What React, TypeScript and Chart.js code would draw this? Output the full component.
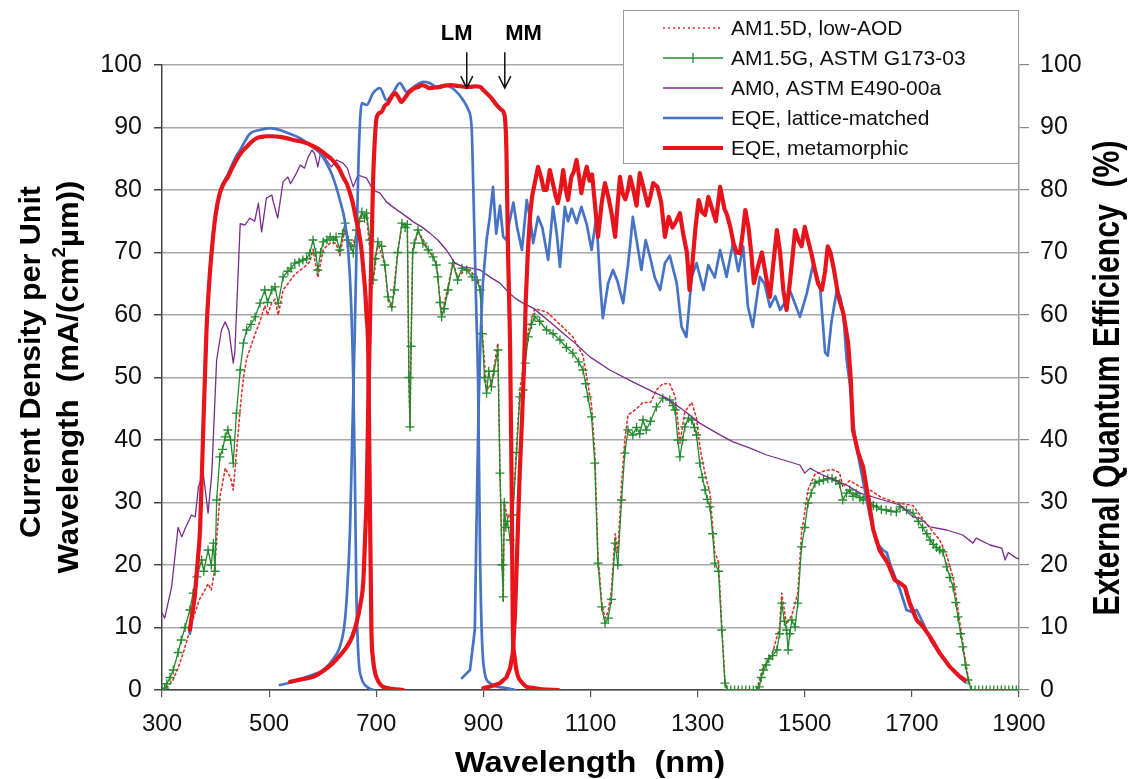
import React, { useEffect, useRef } from 'react';
import { Chart, registerables } from 'chart.js';

Chart.register(...registerables);

const FONT = "'Liberation Sans', Arial, Helvetica, sans-serif";

// ---------- axis ticks ----------
const xTicks = [300, 500, 700, 900, 1100, 1300, 1500, 1700, 1900];
const yTicks = [0, 10, 20, 30, 40, 50, 60, 70, 80, 90, 100];

// ---------- AM0, ASTM E490-00a ----------
const am0Wl = [300, 305, 318, 330, 337, 343, 355, 362, 368, 377, 386, 393, 402, 411, 418, 425, 433, 436, 446, 455, 464, 473, 480, 486, 495, 505, 508, 516, 526, 535, 540, 551, 558, 566, 573, 580, 585, 591, 597, 607, 616, 626, 638, 646, 657, 666, 682, 694, 707, 719, 731, 744, 757, 769, 785, 800, 815, 831, 847, 862, 878, 894, 912, 931, 943, 959, 974, 993, 1020, 1050, 1071, 1099, 1136, 1179, 1217, 1242, 1273, 1304, 1336, 1366, 1398, 1429, 1460, 1491, 1500, 1510, 1520, 1541, 1578, 1603, 1646, 1678, 1702, 1715, 1734, 1765, 1795, 1814, 1820, 1846, 1868, 1874, 1880, 1895, 1900];
const am0Val = [12.3, 11.5, 16.5, 26, 24.5, 25.8, 28, 27.7, 32.5, 34.7, 28.3, 34.7, 52.8, 57.6, 58.9, 57.5, 52.3, 54, 74.6, 74.4, 75.5, 75, 77.9, 73.3, 78.7, 79.2, 78, 75.5, 81.3, 82.1, 81, 82.7, 84, 83.5, 85.3, 86.4, 85.8, 83.7, 86.4, 84.8, 83.7, 84.8, 84.3, 83.5, 80.5, 82.4, 81.9, 80, 79.5, 78.1, 77.3, 76.5, 75.7, 74.9, 74.1, 73.1, 72, 70.4, 68.3, 67.7, 67.5, 67.2, 66.1, 65.1, 64, 62.7, 61.9, 61.1, 59.2, 57, 55.5, 53.3, 51.2, 49.3, 47.7, 46.7, 44.8, 42.7, 41.1, 39.7, 38.7, 37.6, 36.8, 36, 34.7, 35.5, 35, 34.1, 32.8, 31.5, 30.4, 29.6, 27.7, 27.5, 26.1, 25.6, 24.8, 23.5, 24.3, 23.2, 22.7, 20.8, 22, 21.1, 21];

// ---------- AM1.5G, ASTM G173-03 ----------
const amgWl = [300, 305, 309, 315, 321, 330, 336, 343, 352, 358, 365, 374, 378, 386, 392, 396, 399, 402, 408, 413, 418, 423, 428, 433, 439, 446, 452, 458, 466, 474, 483, 492, 497, 505, 511, 517, 526, 535, 541, 548, 556, 563, 570, 576, 582, 587, 591, 596, 601, 608, 614, 620, 625, 632, 637, 642, 648, 653, 657, 663, 668, 673, 678, 682, 688, 694, 698, 703, 710, 716, 722, 729, 734, 740, 748, 754, 758, 761, 763, 765, 768, 771, 778, 787, 797, 806, 812, 815, 819, 822, 827, 834, 843, 852, 860, 869, 879, 888, 894, 898, 902, 906, 910, 915, 920, 927, 931, 935, 937, 939, 942, 945, 950, 955, 962, 968, 974, 978, 984, 990, 996, 1005, 1018, 1030, 1043, 1055, 1067, 1078, 1086, 1091, 1095, 1102, 1108, 1114, 1121, 1127, 1133, 1139, 1146, 1151, 1158, 1164, 1170, 1179, 1186, 1192, 1198, 1204, 1212, 1223, 1235, 1248, 1254, 1258, 1263, 1267, 1272, 1276, 1283, 1289, 1294, 1298, 1304, 1309, 1314, 1318, 1323, 1328, 1332, 1339, 1345, 1351, 1355, 1362, 1369, 1376, 1383, 1390, 1397, 1404, 1410, 1415, 1419, 1423, 1428, 1433, 1440, 1448, 1453, 1457, 1462, 1466, 1469, 1472, 1476, 1482, 1487, 1494, 1500, 1506, 1512, 1519, 1527, 1535, 1543, 1551, 1558, 1565, 1571, 1578, 1584, 1590, 1596, 1603, 1609, 1616, 1622, 1628, 1634, 1643, 1652, 1661, 1671, 1678, 1690, 1702, 1712, 1720, 1728, 1734, 1740, 1746, 1752, 1758, 1765, 1771, 1777, 1782, 1786, 1791, 1795, 1800, 1805, 1811, 1818, 1825, 1832, 1839, 1846, 1853, 1860, 1867, 1874, 1881, 1888, 1895, 1900];
const amgVal = [0, 0.3, 1, 2, 3.2, 6, 8, 10, 12.8, 15.5, 18.1, 20.8, 19, 22.4, 20, 23.5, 19, 30.4, 37.3, 38.5, 40.5, 41.6, 40, 36.3, 44.3, 51.2, 55.5, 57.6, 58.5, 59.7, 61.9, 64, 62, 64, 64.5, 61.9, 66.1, 67, 67.5, 68.3, 68.5, 68.8, 69, 69.9, 72, 70, 67.2, 70, 71.7, 72, 72.5, 72, 72.5, 70.4, 73, 74.7, 72, 71, 69.9, 73.6, 75, 76.5, 75.5, 76.3, 72, 65.6, 69, 71.7, 71, 68, 62.9, 61.3, 64, 70, 74.7, 74, 74.5, 50, 42.1, 55, 70, 71.5, 73.6, 71.5, 70.4, 69.3, 68, 66.1, 62, 59.7, 61, 64, 68.3, 65.6, 67.5, 67.2, 66.1, 65.6, 64, 57, 50, 47.5, 51, 48.5, 51, 54.4, 34.7, 20, 14.9, 30, 26, 27, 24, 28, 38, 46.9, 48, 52.3, 56.5, 58.5, 59.7, 59, 57.6, 57, 56, 54.8, 53.9, 52.5, 51.2, 49, 46.9, 43.7, 36.3, 20.3, 13.3, 10.7, 11.5, 14.5, 23.5, 20, 30.4, 37.9, 41.6, 40.8, 42, 41, 43.2, 41.6, 43, 45.3, 46.7, 46.4, 45.5, 44.8, 40, 37.3, 40, 42.1, 43.5, 43.2, 42, 40.8, 36.3, 34, 32, 30.5, 29.3, 25, 20.3, 19, 9.6, 1.1, 0, 0, 0, 0, 0, 0, 0, 0, 0, 0.5, 2, 3.2, 4, 5, 5.5, 6.4, 9, 13.9, 11, 9.6, 6.4, 9, 11.2, 10.1, 13.9, 22.9, 26, 29.9, 31.5, 33.1, 33.4, 33.6, 33.8, 33.9, 33.5, 33, 30.4, 31.5, 32, 31, 31.5, 30.8, 30.4, 31, 30, 29.5, 29.3, 28.9, 28.8, 28.6, 28.5, 29.3, 28.8, 28.3, 27, 26, 25, 24, 23.3, 22.8, 22.4, 22.1, 19.7, 18, 16.5, 14, 11.7, 9, 6.9, 4, 1.6, 0, 0, 0, 0, 0, 0, 0, 0, 0, 0, 0, 0, 0, 0];

// ---------- AM1.5D, low-AOD ----------
const amdWl = [300, 310, 320, 330, 340, 350, 360, 370, 380, 386, 392, 398, 402, 408, 413, 418, 423, 428, 433, 439, 446, 452, 458, 466, 474, 483, 492, 497, 505, 511, 517, 526, 535, 548, 563, 576, 582, 591, 601, 614, 625, 632, 642, 653, 663, 673, 682, 694, 703, 716, 722, 729, 740, 748, 758, 761, 763, 765, 768, 778, 797, 812, 822, 834, 843, 852, 869, 888, 894, 898, 906, 915, 927, 931, 937, 939, 945, 955, 962, 968, 978, 984, 996, 1018, 1043, 1067, 1086, 1095, 1102, 1108, 1114, 1121, 1127, 1133, 1139, 1146, 1151, 1158, 1164, 1170, 1186, 1198, 1212, 1223, 1235, 1248, 1258, 1267, 1276, 1289, 1298, 1304, 1314, 1323, 1332, 1339, 1345, 1351, 1355, 1410, 1422, 1440, 1453, 1457, 1466, 1476, 1487, 1494, 1506, 1519, 1535, 1551, 1565, 1571, 1584, 1603, 1622, 1643, 1671, 1702, 1728, 1752, 1765, 1777, 1786, 1795, 1805, 1811, 1900];
const amdVal = [0, 0.5, 1.5, 3.5, 6, 9, 12, 14.5, 16, 17, 16, 19, 24, 31, 33, 35.5, 34.7, 34, 32, 38, 45, 50, 53, 55, 57, 59, 61.5, 60, 62, 62.5, 60, 64, 65, 66.5, 67.5, 68.5, 70.5, 66, 70.5, 71.5, 71.5, 69.5, 74, 70.5, 73, 76, 75.8, 65, 71.5, 68, 62.5, 61, 70, 74.5, 74.3, 50, 42, 55, 70, 73.5, 70.5, 68.5, 60, 64.5, 68.5, 66, 67.5, 66, 64.5, 57, 48, 49, 55.5, 35, 14, 30, 27.5, 28.5, 39, 48, 53.5, 57.5, 61, 60.5, 58.5, 56.5, 53.5, 49, 45.5, 38, 21.5, 14, 11.5, 12.5, 16, 25, 22, 33, 40, 44, 45, 46, 46, 48, 49, 49, 47, 39.5, 44.5, 46, 43.5, 39, 34.5, 31.5, 22, 20.5, 10.5, 1.5, 0, 0, 3.5, 6, 10, 15.5, 10.5, 12, 15.5, 25, 32, 34.5, 35, 35.3, 34.8, 32.5, 33.5, 32.5, 32, 30.8, 30, 29.5, 26.5, 24, 21.5, 18, 13, 7.5, 2, 0, 0];

// ---------- EQE, lattice-matched (top / middle / bottom subcells) ----------
const lmTopWl = [352, 361, 371, 377, 383, 393, 408, 423, 439, 446, 464, 483, 502, 520, 539, 558, 576, 595, 607, 619, 632, 642, 648, 653, 657, 660, 663, 667, 672, 680, 694];
const lmTopVal = [9, 15, 26, 42, 57, 70.5, 79.5, 82.5, 85.5, 86.4, 89, 89.6, 89.9, 89.6, 89, 88.3, 87.2, 85.9, 84.3, 82.1, 78.4, 74.7, 70, 62, 50, 35, 15, 5, 2, 0.7, 0];
const lmMidWl = [520, 540, 560, 580, 601, 620, 632, 640, 645, 651, 655, 660, 663, 667, 673, 682, 694, 707, 719, 731, 744, 757, 770, 788, 800, 812, 825, 838, 850, 862, 872, 878, 881, 884, 887, 890, 894, 900, 912, 943, 959];
const lmMidVal = [0.8, 1.2, 1.8, 2.4, 3.2, 5, 6.9, 10, 14.9, 25.6, 40, 57.6, 70, 85, 93.9, 93.6, 95.5, 96.3, 94.4, 95.5, 97.1, 95.7, 96.5, 97.3, 97.1, 96.5, 96.7, 96.5, 95.7, 94.4, 92.8, 90.1, 81.1, 70.4, 60, 50, 20.3, 4.3, 1.1, 0.3, 0];
const lmBotWl = [860, 875, 884, 887, 891, 895, 899, 906, 912, 918, 924, 931, 937, 943, 949, 956, 963, 972, 981, 988, 993, 1002, 1010, 1021, 1030, 1037, 1043, 1052, 1058, 1065, 1074, 1083, 1093, 1102, 1111, 1118, 1123, 1133, 1142, 1150, 1161, 1170, 1175, 1179, 1186, 1195, 1203, 1212, 1220, 1230, 1239, 1248, 1261, 1270, 1279, 1289, 1298, 1311, 1320, 1332, 1342, 1354, 1366, 1376, 1385, 1394, 1403, 1416, 1425, 1435, 1445, 1454, 1463, 1472, 1481, 1491, 1504, 1516, 1529, 1538, 1543, 1550, 1560, 1566, 1572, 1578, 1584, 1594, 1606, 1622, 1634, 1646, 1653, 1660, 1678, 1690, 1700, 1709, 1721, 1735, 1750, 1765, 1780, 1795, 1800];
const lmBotVal = [1.9, 3.2, 9.6, 25.6, 45, 57, 65, 72, 75.7, 80.5, 73, 77.5, 72.5, 72, 75, 78, 74, 70.4, 78.4, 75, 71.5, 75.7, 74, 68.8, 77.3, 73, 67.7, 77.3, 75, 77, 74.7, 77.3, 74.5, 70.4, 75.7, 65.1, 59.5, 65.1, 67.2, 65.5, 61.9, 68, 72, 75.7, 72, 67.2, 72, 69, 66, 64, 68.3, 69.5, 65.1, 58.1, 56.5, 66.1, 68.3, 64, 68, 66, 70.4, 66.1, 71.5, 67, 71, 61.3, 58.1, 66.1, 65, 61.3, 63, 60.8, 62, 64, 62, 59.7, 63.5, 68.3, 64, 54, 53.5, 59, 64, 63, 60.3, 53, 49.1, 40, 34.7, 27.7, 23.5, 22.4, 22, 20, 16, 12.8, 12.5, 12.8, 10.7, 8, 6, 4.3, 2.8, 1.6, 1.2];

// ---------- EQE, metamorphic (top / middle / bottom subcells) ----------
const mmTopWl = [352, 356, 361, 366, 371, 377, 383, 388, 393, 400, 408, 415, 423, 431, 439, 448, 458, 467, 477, 486, 495, 508, 520, 532, 545, 558, 570, 580, 589, 598, 607, 617, 626, 632, 638, 645, 651, 656, 660, 665, 670, 673, 676, 680, 682, 685, 688, 691, 694, 698, 705, 713, 730, 750];
const mmTopVal = [9.6, 12, 14.9, 20, 25.6, 41.6, 57.4, 65, 70.4, 76, 79.5, 81, 82.1, 83.5, 84.8, 86, 86.9, 87.7, 88.3, 88.5, 88.6, 88.6, 88.5, 88.3, 88, 87.8, 87.5, 87.1, 86.7, 86.2, 85.6, 84.9, 84, 83.2, 82.1, 81, 79.5, 78, 76.3, 74.3, 72, 70, 67.2, 63, 59.7, 54.4, 31, 9.6, 5, 2.7, 1.2, 0.5, 0.2, 0];
const mmMidWl = [539, 560, 582, 600, 619, 632, 645, 655, 663, 670, 676, 679, 682, 685, 688, 691, 694, 697, 701, 710, 716, 722, 728, 735, 741, 747, 754, 760, 766, 772, 779, 785, 792, 800, 810, 819, 828, 838, 848, 857, 866, 875, 885, 894, 900, 906, 914, 922, 928, 934, 940, 943, 946, 950, 953, 955, 958, 961, 965, 972, 981, 995, 1010, 1040];
const mmMidVal = [1.3, 1.7, 2.1, 3, 4.3, 5.5, 6.9, 8.5, 10.7, 13.5, 17.6, 24, 31, 45, 57.6, 70, 81.1, 87.5, 91.7, 92.5, 93.5, 93.9, 94.8, 95.5, 94.9, 94.1, 94.8, 95.5, 96, 96.3, 96.5, 96.8, 96.6, 96.3, 96.4, 96.5, 96.7, 96.8, 96.7, 96.6, 96.5, 96.5, 96.6, 96.5, 96, 95.5, 94.8, 93.9, 93.3, 92.8, 91.7, 86.4, 70.4, 54.4, 31, 9.6, 5.5, 3.5, 2.1, 1.2, 0.5, 0.3, 0.1, 0];
const mmBotWl = [900, 915, 931, 943, 950, 955, 959, 963, 968, 972, 976, 979, 983, 987, 991, 996, 1002, 1008, 1013, 1018, 1024, 1030, 1035, 1039, 1044, 1049, 1054, 1058, 1064, 1069, 1074, 1079, 1083, 1088, 1093, 1098, 1103, 1108, 1114, 1121, 1127, 1133, 1140, 1146, 1150, 1155, 1160, 1165, 1170, 1174, 1180, 1186, 1192, 1200, 1207, 1212, 1217, 1225, 1232, 1239, 1246, 1253, 1260, 1267, 1273, 1280, 1285, 1290, 1296, 1302, 1308, 1314, 1320, 1327, 1334, 1342, 1350, 1355, 1361, 1367, 1373, 1379, 1384, 1389, 1395, 1400, 1405, 1412, 1420, 1428, 1435, 1441, 1448, 1454, 1460, 1466, 1472, 1478, 1482, 1488, 1494, 1500, 1506, 1512, 1519, 1525, 1532, 1538, 1543, 1548, 1555, 1563, 1572, 1581, 1586, 1590, 1600, 1609, 1618, 1628, 1640, 1655, 1668, 1678, 1687, 1696, 1709, 1721, 1734, 1752, 1771, 1790, 1799];
const mmBotVal = [0.3, 0.6, 1.1, 2, 3.5, 6, 12, 22, 35, 43, 52, 62, 70, 75.7, 79, 81.1, 83.7, 82, 80, 80, 83.2, 81, 79, 77.9, 80, 83.2, 80, 78.4, 82, 83, 84.8, 82, 79.5, 82, 83.7, 81.5, 82.5, 78, 72.5, 78, 81.1, 79, 76, 72.5, 77, 82.1, 79.5, 78.5, 80, 82.1, 80, 77.5, 82.7, 80, 77.5, 79, 81.1, 80.5, 78, 72.5, 75.7, 74, 75, 76.3, 73, 70, 64, 68, 74, 78.4, 76.5, 76, 78.9, 77, 75, 80.5, 77, 76, 74.1, 71.5, 70, 69.9, 73, 76.8, 74, 70, 65.1, 67.5, 70, 66, 62.9, 68, 73.6, 70, 64, 60.8, 65, 70, 73.6, 72, 71, 74.1, 72, 70, 67.2, 65, 64, 67, 71, 70, 67, 62.9, 60.3, 55.5, 49.6, 41.6, 37.9, 35.7, 31, 25.6, 22.3, 20.3, 17.6, 17.1, 16.5, 13.9, 11.2, 10.1, 8.5, 5.9, 3.7, 2.1, 1.6];

// ---------- annotations ----------
const markerLabels = ['LM', 'MM'];
const markerArrowWl = [869, 940];
const markerTextWl = [850, 975];
const markerTipVal = 96.3;

// ---------- legend ----------
const legendLabels = ['AM1.5D, low-AOD', 'AM1.5G, ASTM G173-03', 'AM0, ASTM E490-00a', 'EQE, lattice-matched', 'EQE, metamorphic'];

const COLORS = {
  amd: '#e4302c',
  amg: '#238a2e',
  am0: '#7a2c8c',
  lm: '#4673c6',
  mm: '#e8141c',
};

const styles: any[] = [
  { color: COLORS.amd, width: 1.6, dash: [2, 3], marker: false },
  { color: COLORS.amg, width: 1.3, dash: [], marker: true },
  { color: COLORS.am0, width: 1.3, dash: [], marker: false },
  { color: COLORS.lm, width: 2.7, dash: [], marker: false },
  { color: COLORS.mm, width: 4.2, dash: [], marker: false },
];

const pts = (wl: number[], v: number[]) => wl.map((x, i) => ({ x, y: v[i] }));

function lineDs(label: string, data: any[], st: any, order: number, axis: string, smooth: boolean) {
  return {
    label,
    data,
    yAxisID: axis,
    borderColor: st.color,
    backgroundColor: st.color,
    borderWidth: st.width,
    borderDash: st.dash,
    pointRadius: st.marker ? 4.5 : 0,
    pointStyle: st.marker ? 'cross' : 'circle',
    pointBorderColor: st.color,
    pointBorderWidth: 1.3,
    pointHoverRadius: 0,
    fill: false,
    tension: 0,
    cubicInterpolationMode: smooth ? 'monotone' : 'default',
    order,
    borderJoinStyle: 'round',
    borderCapStyle: 'round',
  };
}

type Seg = { t: string; size: number; rise?: number };

function drawFitted(ctx: CanvasRenderingContext2D, segs: Seg[], cx: number, cy: number, angle: number, targetLen: number) {
  ctx.save();
  let total = 0;
  const widths = segs.map((s) => {
    ctx.font = `bold ${s.size}px ${FONT}`;
    const w = ctx.measureText(s.t).width;
    total += w;
    return w;
  });
  const sx = targetLen / total;
  ctx.translate(cx, cy);
  ctx.rotate(angle);
  ctx.scale(sx, 1);
  ctx.textBaseline = 'alphabetic';
  ctx.textAlign = 'left';
  ctx.fillStyle = '#000';
  let x = -total / 2;
  segs.forEach((s, i) => {
    ctx.font = `bold ${s.size}px ${FONT}`;
    ctx.fillText(s.t, x, -(s.rise || 0));
    x += widths[i];
  });
  ctx.restore();
}

const overlayPlugin = {
  id: 'overlay',
  afterDraw(chart: any) {
    const ctx: CanvasRenderingContext2D = chart.ctx;
    const xs = chart.scales.x;
    const ys = chart.scales.y;

    // LM / MM markers
    ctx.save();
    ctx.strokeStyle = '#111';
    ctx.fillStyle = '#000';
    ctx.lineWidth = 1.5;
    ctx.font = `bold 22px ${FONT}`;
    ctx.textAlign = 'center';
    ctx.textBaseline = 'middle';
    markerLabels.forEach((lab, i) => {
      const ax = xs.getPixelForValue(markerArrowWl[i]);
      const tipY = ys.getPixelForValue(markerTipVal);
      const tailY = tipY - 36;
      ctx.beginPath();
      ctx.moveTo(ax, tailY);
      ctx.lineTo(ax, tipY);
      ctx.moveTo(ax - 6, tipY - 12);
      ctx.lineTo(ax, tipY);
      ctx.lineTo(ax + 6, tipY - 12);
      ctx.stroke();
      ctx.fillText(lab, xs.getPixelForValue(markerTextWl[i]), tailY - 18);
    });
    ctx.restore();

    // legend box
    const lx = 623, ly = 10, lw = 1018 - 623, lh = 153;
    ctx.save();
    ctx.fillStyle = '#fff';
    ctx.fillRect(lx, ly, lw, lh);
    ctx.strokeStyle = '#9a9a9a';
    ctx.lineWidth = 1;
    ctx.strokeRect(lx + 0.5, ly + 0.5, lw, lh);
    ctx.font = `21px ${FONT}`;
    ctx.textAlign = 'left';
    ctx.textBaseline = 'middle';
    legendLabels.forEach((lab, i) => {
      const st = styles[i];
      const y = ly + 18 + i * 30;
      ctx.strokeStyle = st.color;
      ctx.lineWidth = st.width;
      ctx.setLineDash(st.dash);
      ctx.lineCap = 'butt';
      ctx.beginPath();
      ctx.moveTo(663, y);
      ctx.lineTo(723, y);
      ctx.stroke();
      ctx.setLineDash([]);
      if (st.marker) {
        ctx.lineWidth = 1.3;
        ctx.beginPath();
        ctx.moveTo(693, y - 5);
        ctx.lineTo(693, y + 5);
        ctx.stroke();
      }
      ctx.fillStyle = '#111';
      ctx.fillText(lab, 731, y + 1);
    });
    ctx.restore();

    // axis titles
    drawFitted(ctx, [{ t: 'Current Density per Unit', size: 30 }], 40, 362, -Math.PI / 2, 352);
    drawFitted(
      ctx,
      [
        { t: 'Wavelength  (mA/(cm', size: 30 },
        { t: '2', size: 18, rise: 13 },
        { t: '\u00B5m))', size: 30 },
      ],
      78,
      377,
      -Math.PI / 2,
      393
    );
    drawFitted(ctx, [{ t: 'External Quantum Efficiency  (%)', size: 36 }], 1119, 378, -Math.PI / 2, 475);
    drawFitted(ctx, [{ t: 'Wavelength  (nm)', size: 30 }], 590, 772, 0, 270);
  },
};

export default function App() {
  const ref = useRef<HTMLCanvasElement | null>(null);

  useEffect(() => {
    if (!ref.current) return;
    Chart.defaults.font.family = FONT;
    const datasets: any[] = [
      lineDs('AM1.5D, low-AOD', pts(amdWl, amdVal), styles[0], 4, 'y', false),
      lineDs('AM1.5G, ASTM G173-03', pts(amgWl, amgVal), styles[1], 3, 'y', false),
      lineDs('AM0, ASTM E490-00a', pts(am0Wl, am0Val), styles[2], 2, 'y', false),
      lineDs('EQE, lattice-matched', pts(lmTopWl, lmTopVal), styles[3], 1, 'y2', true),
      lineDs('EQE, lattice-matched', pts(lmMidWl, lmMidVal), styles[3], 1, 'y2', true),
      lineDs('EQE, lattice-matched', pts(lmBotWl, lmBotVal), styles[3], 1, 'y2', false),
      lineDs('EQE, metamorphic', pts(mmTopWl, mmTopVal), styles[4], 0, 'y2', true),
      lineDs('EQE, metamorphic', pts(mmMidWl, mmMidVal), styles[4], 0, 'y2', true),
      lineDs('EQE, metamorphic', pts(mmBotWl, mmBotVal), styles[4], 0, 'y2', false),
    ];
    const tickSetter = (vals: number[]) => (s: any) => {
      s.ticks = vals.map((v) => ({ value: v }));
    };
    const plain = (v: any) => String(v);
    const chart = new Chart(ref.current, {
      type: 'line',
      data: { datasets },
      options: {
        animation: false,
        responsive: false,
        maintainAspectRatio: false,
        devicePixelRatio: 1,
        layout: { padding: { top: 65, left: 0, right: 0, bottom: 0 } },
        plugins: { legend: { display: false }, tooltip: { enabled: false } },
        events: [],
        scales: {
          x: {
            type: 'linear',
            min: 300,
            max: 1900,
            afterBuildTicks: tickSetter(xTicks),
            afterFit: (s: any) => {
              s.height = 89;
            },
            grid: { drawOnChartArea: false, drawTicks: true, tickLength: 7, tickColor: '#555', lineWidth: 1.2 },
            border: { color: '#444', width: 1.5 },
            ticks: { font: { size: 24 }, color: '#111', padding: 13, maxRotation: 0, autoSkip: false, callback: plain },
          },
          y: {
            type: 'linear',
            position: 'left',
            min: 0,
            max: 100,
            afterBuildTicks: tickSetter(yTicks),
            afterFit: (s: any) => {
              s.width = 162;
            },
            grid: { color: '#a8a8a8', lineWidth: 1.5, tickLength: 8, tickColor: '#444' },
            border: { color: '#444', width: 1.5 },
            ticks: { font: { size: 25 }, color: '#111', padding: 12, callback: plain },
          },
          y2: {
            type: 'linear',
            position: 'right',
            min: 0,
            max: 100,
            afterBuildTicks: tickSetter(yTicks),
            afterFit: (s: any) => {
              s.width = 114;
            },
            grid: { drawOnChartArea: false, tickLength: 10, tickColor: '#888', lineWidth: 1.2 },
            border: { color: '#999', width: 1.5 },
            ticks: { font: { size: 25 }, color: '#111', padding: 11, callback: plain },
          },
        },
      } as any,
      plugins: [overlayPlugin],
    });
    return () => chart.destroy();
  }, []);

  return (
    <div style={{ position: 'absolute', left: 0, top: 0, width: 1133, height: 779, background: '#fff' }}>
      <canvas ref={ref} width={1133} height={779} style={{ width: 1133, height: 779, display: 'block' }} />
    </div>
  );
}
